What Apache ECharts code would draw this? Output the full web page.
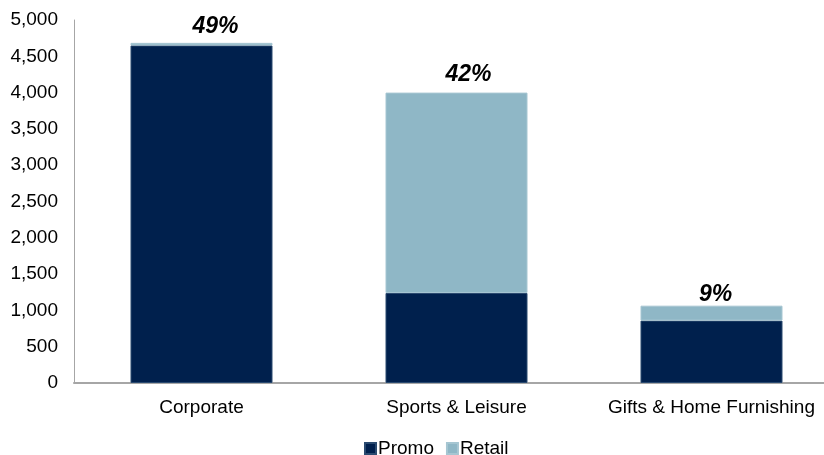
<!DOCTYPE html>
<html>
<head>
<meta charset="utf-8">
<script src="https://cdn.jsdelivr.net/npm/echarts@6/dist/echarts.min.js"></script>
<style>
  html, body { margin: 0; padding: 0; background: #fff; }
  #chart { width: 824px; height: 455px; }
</style>
</head>
<body>
<div id="chart"></div>
<script>
// Revenue by segment, split into promotional and retail channels
const categories = ['Corporate', 'Sports & Leisure', 'Gifts & Home Furnishing'];
const promo = [4650, 1240, 860];
const retail = [35, 2760, 205];
const shareLabels = ['49%', '42%', '9%'];
const yTicks = { min: 0, max: 5000, interval: 500 };

const chart = echarts.init(document.getElementById('chart'));
const font = 'Liberation Sans, Arial, sans-serif';

// share labels sit slightly right of each stack's centre
const shareLabelOffset = i => [[14, 1], [12, 0], [4, 6]][i];

chart.setOption({
  animation: false,
  textStyle: { fontFamily: font },
  // plot area runs slightly past the right edge of the canvas
  grid: { left: 74, top: 20, width: 765, height: 363, outerBoundsMode: 'none', containLabel: false },
  legend: {
    top: 434,
    left: 359,
    itemWidth: 11,
    itemHeight: 11,
    itemGap: 12,
    icon: 'rect',
    textStyle: { fontSize: 19, color: '#000', fontFamily: font, padding: [0, 0, 0, -3] },
    data: ['Promo', 'Retail']
  },
  xAxis: {
    type: 'category',
    data: categories,
    axisLine: { lineStyle: { color: '#a6a6a6', width: 2 } },
    axisTick: { show: false },
    axisLabel: { fontSize: 19, color: '#000', margin: 15, fontFamily: font, interval: 0 }
  },
  yAxis: {
    type: 'value',
    min: yTicks.min,
    max: yTicks.max,
    interval: yTicks.interval,
    splitLine: { show: false },
    axisLine: { show: true, lineStyle: { color: '#a6a6a6', width: 1 } },
    axisTick: { show: false },
    axisLabel: {
      fontSize: 19, color: '#000', margin: 16, fontFamily: font,
      formatter: v => v.toLocaleString('en-US')
    }
  },
  series: [
    {
      name: 'Promo',
      type: 'bar',
      stack: 'total',
      barWidth: 142,
      data: promo,
      itemStyle: { color: '#00204d', borderColor: '#2a4a70', borderWidth: 1 }
    },
    {
      name: 'Retail',
      type: 'bar',
      stack: 'total',
      barWidth: 142,
      data: retail.map((v, i) => ({ value: v, label: { offset: shareLabelOffset(i) } })),
      itemStyle: { color: '#8fb7c6', borderColor: '#a6c6d2', borderWidth: 1 },
      label: {
        show: true,
        position: 'top',
        distance: 6,
        formatter: p => shareLabels[p.dataIndex],
        fontSize: 23,
        fontWeight: 'bold',
        fontStyle: 'italic',
        color: '#000',
        fontFamily: font
      }
    }
  ]
});
</script>
</body>
</html>
